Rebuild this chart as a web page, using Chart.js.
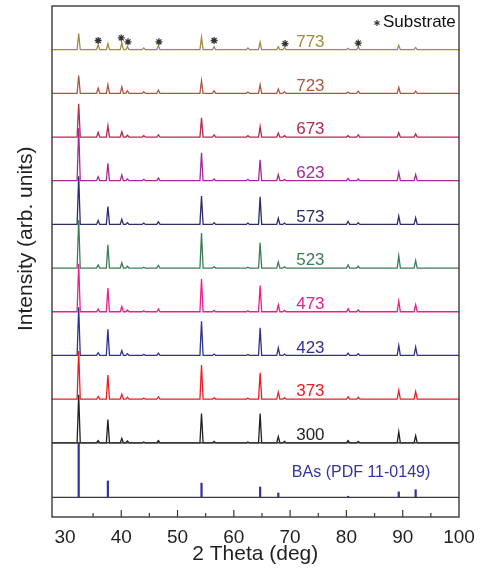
<!DOCTYPE html>
<html lang="en">
<head>
    <meta charset="UTF-8">
    <title>BAs XRD</title>
    <script src="https://cdn.jsdelivr.net/npm/chart.js"></script>
    <style>
        body { margin: 0; padding: 0; background: white; }
        #wrap { width: 483px; height: 568px; }
    </style>
</head>
<body>
    <div id="wrap"><canvas id="xrd"></canvas></div>

    <script>
        // peak positions (2 theta, deg) shared by all patterns
        const twoTheta = [32.44, 35.9, 37.63, 40.1, 41.1, 44.0, 46.6, 54.26, 56.5, 62.5, 64.67, 67.9, 69.0, 80.3, 82.1, 89.3, 92.3];
        const temps = ['773', '723', '673', '623', '573', '523', '473', '423', '373', '300'];
        // peak heights, in units of the stacking step
        const i773 = [0.37, 0.11, 0.14, 0.16, 0.07, 0.04, 0.09, 0.28, 0.07, 0.04, 0.17, 0.07, 0.05, 0.03, 0.07, 0.10, 0.05];
        const i723 = [0.41, 0.12, 0.20, 0.15, 0.06, 0.04, 0.07, 0.29, 0.06, 0.03, 0.20, 0.10, 0.04, 0.03, 0.05, 0.14, 0.05];
        const i673 = [0.76, 0.11, 0.26, 0.12, 0.04, 0.03, 0.05, 0.44, 0.05, 0.03, 0.24, 0.09, 0.03, 0.03, 0.05, 0.10, 0.07];
        const i623 = [1.20, 0.09, 0.40, 0.13, 0.04, 0.03, 0.06, 0.64, 0.04, 0.03, 0.48, 0.14, 0.03, 0.05, 0.04, 0.19, 0.14];
        const i573 = [1.10, 0.09, 0.41, 0.12, 0.04, 0.03, 0.06, 0.65, 0.04, 0.03, 0.63, 0.14, 0.03, 0.07, 0.04, 0.19, 0.15];
        const i523 = [1.10, 0.07, 0.53, 0.12, 0.04, 0.02, 0.06, 0.80, 0.03, 0.02, 0.58, 0.14, 0.03, 0.07, 0.04, 0.28, 0.17];
        const i473 = [1.10, 0.06, 0.54, 0.12, 0.04, 0.02, 0.06, 0.75, 0.03, 0.02, 0.60, 0.16, 0.03, 0.07, 0.04, 0.24, 0.16];
        const i423 = [1.10, 0.06, 0.60, 0.11, 0.04, 0.02, 0.05, 0.78, 0.03, 0.02, 0.63, 0.17, 0.03, 0.05, 0.04, 0.23, 0.19];
        const i373 = [1.10, 0.06, 0.55, 0.11, 0.04, 0.02, 0.05, 0.78, 0.03, 0.02, 0.60, 0.16, 0.03, 0.05, 0.04, 0.20, 0.17];
        const i300 = [1.10, 0.05, 0.53, 0.10, 0.04, 0.02, 0.05, 0.67, 0.03, 0.02, 0.67, 0.14, 0.03, 0.05, 0.03, 0.25, 0.16];
        const patterns = [i773, i723, i673, i623, i573, i523, i473, i423, i373, i300];
        const colors = ['#a08c3e', '#a65a45', '#b5294f', '#a3299b', '#2c2c6c', '#3c7d57', '#ec1e8c', '#2e3192', '#ed1c24', '#231f20'];

        // substrate peaks marked with a star on the 773 pattern
        const starPos = [35.9, 40.0, 41.2, 46.7, 56.5, 69.1, 82.1];
        const starHeight = [0.21, 0.27, 0.18, 0.18, 0.21, 0.14, 0.15];

        // BAs reference (PDF 11-0149), relative intensity %
        const refPos = [32.44, 37.63, 54.26, 64.67, 67.9, 80.3, 89.3, 92.3];
        const refInt = [100, 30, 26, 19, 8, 2, 10, 14];

        const xTicks = [30, 40, 50, 60, 70, 80, 90, 100];

        const refBase = -1.25;      // baseline of the reference panel
        const halfWidth = 0.28;     // peak half width, deg
        const frameColor = '#3a3a3a';
        const font = '"Liberation Sans", Arial, sans-serif';

        function patternData(heights, offset) {
            const pts = [{ x: 27.7, y: offset }];
            twoTheta.forEach((p, k) => {
                pts.push({ x: p - halfWidth, y: offset });
                pts.push({ x: p, y: offset + heights[k] });
                pts.push({ x: p + halfWidth, y: offset });
            });
            pts.push({ x: 100, y: offset });
            return pts;
        }

        const datasets = [];
        datasets.push({
            label: 'Substrate',
            data: starPos.map((p, k) => ({ x: p, y: 9 + starHeight[k] })),
            showLine: false,
            pointStyle: 'star',
            pointRadius: 3.5,
            pointBorderWidth: 1.3,
            pointBorderColor: '#333',
            pointBackgroundColor: '#333'
        });
        patterns.forEach((h, i) => {
            datasets.push({
                label: temps[i],
                data: patternData(h, 9 - i),
                borderColor: colors[i],
                borderWidth: 1.3,
                pointRadius: 0,
                tension: 0
            });
        });
        datasets.push({
            type: 'bar',
            label: 'BAs',
            data: refPos.map((p, k) => ({ x: p, y: [refBase, refBase + refInt[k] * (-refBase) / 100] })),
            backgroundColor: '#3434a0',
            barThickness: 1.6,
            grouped: false
        });

        const decor = {
            id: 'decor',
            afterDraw(chart) {
                const { ctx, chartArea: a, scales: { x, y } } = chart;
                ctx.save();
                // frame and panel separators
                ctx.strokeStyle = frameColor;
                ctx.lineWidth = 1.4;
                ctx.strokeRect(a.left, a.top, a.right - a.left, a.bottom - a.top);
                [0, refBase].forEach(v => {
                    const py = y.getPixelForValue(v);
                    ctx.beginPath();
                    ctx.moveTo(a.left, py);
                    ctx.lineTo(a.right, py);
                    ctx.stroke();
                });
                // inner ticks
                ctx.lineWidth = 1.2;
                x.ticks.forEach(t => {
                    if (t.value % 5 !== 0 || t.value >= 100) return;
                    const px = x.getPixelForValue(t.value);
                    const len = t.value % 10 === 0 ? 7 : 4;
                    ctx.beginPath();
                    ctx.moveTo(px, a.bottom);
                    ctx.lineTo(px, a.bottom - len);
                    ctx.stroke();
                });
                // tick labels and x title
                ctx.fillStyle = '#231f20';
                ctx.textAlign = 'center';
                ctx.textBaseline = 'middle';
                ctx.font = '19px ' + font;
                xTicks.forEach(v => ctx.fillText(String(v), x.getPixelForValue(v), a.bottom + 21));
                ctx.font = '21px ' + font;
                ctx.fillText('2 Theta (deg)', x.getPixelForValue(63.8), a.bottom + 37);
                // pattern labels
                ctx.font = '17px ' + font;
                ctx.textBaseline = 'alphabetic';
                temps.forEach((t, i) => {
                    ctx.fillStyle = colors[i];
                    ctx.fillText(t, x.getPixelForValue(73.6), y.getPixelForValue(9 - i + 0.06));
                });
                ctx.fillStyle = '#3434a0';
                ctx.font = '16px ' + font;
                ctx.textBaseline = 'middle';
                ctx.fillText('BAs (PDF 11-0149)', x.getPixelForValue(82.6), y.getPixelForValue(-0.69));
                // substrate key
                ctx.fillStyle = '#111';
                ctx.font = '17px ' + font;
                ctx.textAlign = 'left';
                ctx.fillText('Substrate', a.right - 76, a.top + 16);
                const sx = a.right - 82, sy = a.top + 17;
                ctx.strokeStyle = '#333';
                ctx.lineWidth = 1.2;
                for (let k = 0; k < 3; k++) {
                    const ang = k * Math.PI / 3 + Math.PI / 2;
                    ctx.beginPath();
                    ctx.moveTo(sx - 3 * Math.cos(ang), sy - 3 * Math.sin(ang));
                    ctx.lineTo(sx + 3 * Math.cos(ang), sy + 3 * Math.sin(ang));
                    ctx.stroke();
                }
                // y title
                ctx.fillStyle = '#231f20';
                ctx.font = '21px ' + font;
                ctx.textAlign = 'center';
                ctx.translate(26, y.getPixelForValue(4.67));
                ctx.rotate(-Math.PI / 2);
                ctx.fillText('Intensity (arb. units)', 0, 0);
                ctx.restore();
            }
        };

        new Chart(document.getElementById('xrd'), {
            type: 'line',
            data: { datasets },
            options: {
                responsive: true,
                maintainAspectRatio: false,
                animation: false,
                layout: { padding: { left: 52, right: 24, top: 6, bottom: 51 } },
                plugins: {
                    legend: { display: false },
                    tooltip: { enabled: false }
                },
                scales: {
                    x: {
                        type: 'linear',
                        min: 27.7,
                        max: 100,
                        offset: false,
                        display: false,
                        ticks: { stepSize: 5 }
                    },
                    y: {
                        display: false,
                        min: -1.7,
                        max: 10
                    }
                }
            },
            plugins: [decor]
        });
    </script>
</body>
</html>
